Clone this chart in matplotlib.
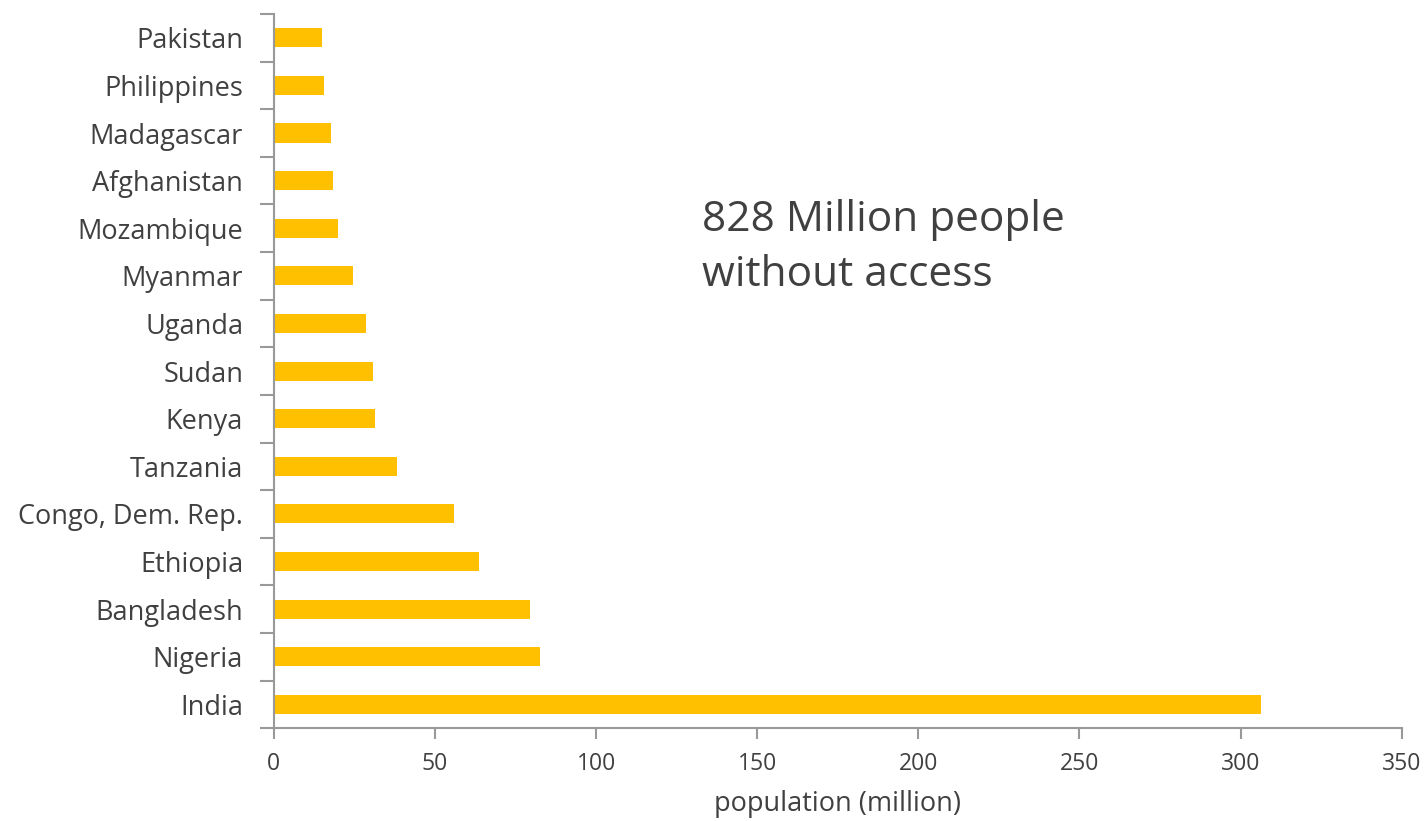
import numpy as np
import matplotlib.pyplot as plt

# countries with largest population without electricity access
countries = ["India", "Nigeria", "Bangladesh", "Ethiopia", "Congo, Dem. Rep.",
             "Tanzania", "Kenya", "Sudan", "Uganda", "Myanmar", "Mozambique",
             "Afghanistan", "Madagascar", "Philippines", "Pakistan"]
population = [306.3, 82.5, 79.6, 63.8, 55.9, 38.1, 31.3, 30.9, 28.5, 24.5,
              20.0, 18.5, 17.7, 15.6, 15.0]
xticks = [0, 50, 100, 150, 200, 250, 300, 350]

plt.rcParams['font.family'] = ['Open Sans', 'DejaVu Sans']
txt = "#404040"
axc = "#999999"

fig = plt.figure(figsize=(14.26, 8.21), dpi=100)
ax = fig.add_axes([0.192, 0.113, 0.791, 0.870])

y = np.arange(len(countries))
ax.barh(y, population, height=0.4, color="#FFC000")

ax.set_xlim(0, 350)
ax.set_ylim(-0.5, len(countries) - 0.5)
ax.set_xticks(xticks)
ax.set_xticklabels([str(t) for t in xticks], fontsize=16.5, color=txt)

# category labels between the boundary ticks
ax.set_yticks(np.arange(-0.5, len(countries), 1.0))
ax.set_yticklabels([])
ax.set_yticks(y, minor=True)
ax.set_yticklabels(countries, minor=True, fontsize=19.5, color=txt)
ax.tick_params(axis="y", which="minor", length=0, pad=22)
ax.tick_params(axis="y", which="major", length=10, color=axc, width=1.5)
ax.tick_params(axis="x", length=8, color=axc, width=1.5, pad=9)

for s in ["top", "right"]:
    ax.spines[s].set_visible(False)
for s in ["left", "bottom"]:
    ax.spines[s].set_color(axc)
    ax.spines[s].set_linewidth(1.5)

ax.set_xlabel("population (million)", fontsize=19.5, color=txt, labelpad=10)

ax.text(133, 9.6, "828 Million people\nwithout access", fontsize=30.5, color=txt,
        va="center", ha="left", linespacing=1.4)

plt.savefig("out.png", dpi=100)
